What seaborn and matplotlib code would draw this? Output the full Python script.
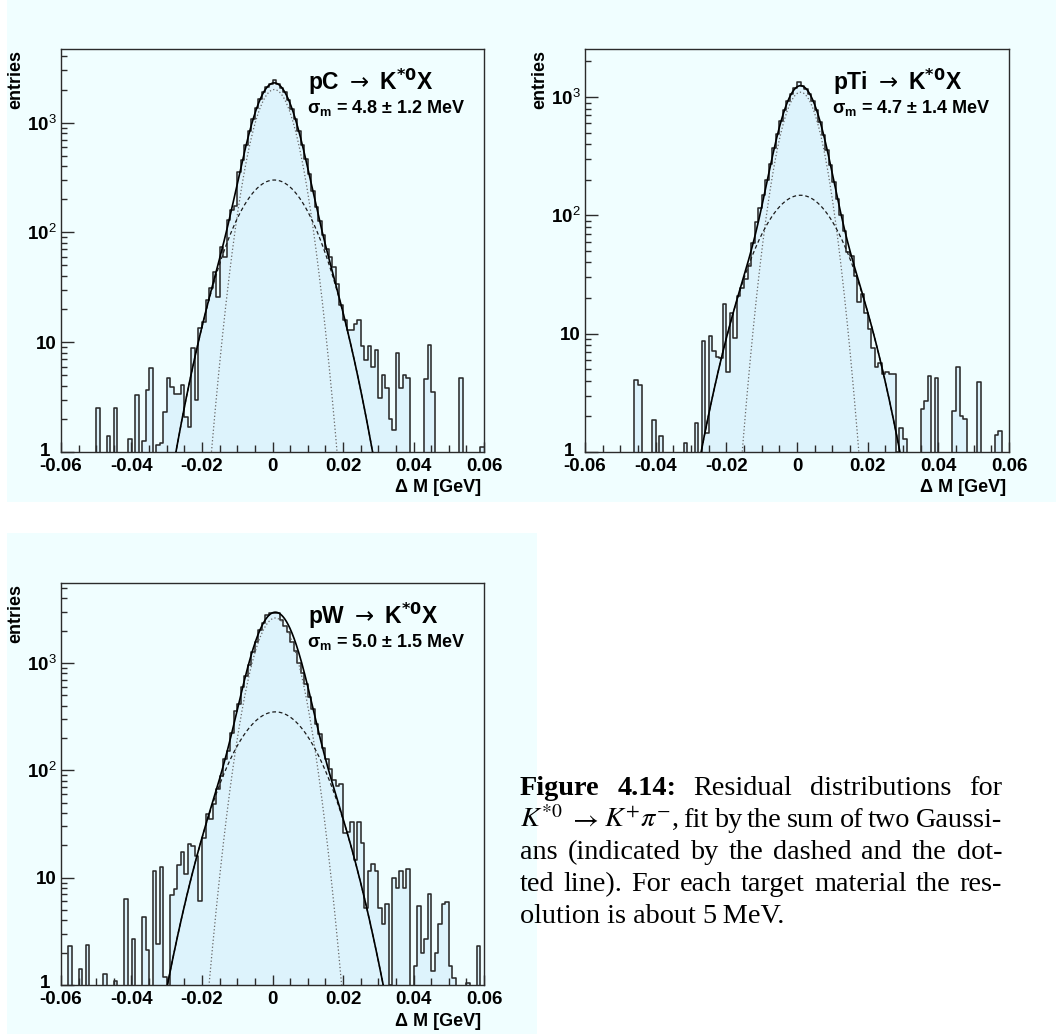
import numpy as np
import pandas as pd
import matplotlib
matplotlib.use("Agg")
import matplotlib.pyplot as plt
from matplotlib.patches import Rectangle
from matplotlib.ticker import FixedLocator, NullFormatter, MultipleLocator
import seaborn as sns

plt.rcParams['font.family'] = ['Liberation Sans', 'DejaVu Sans']
plt.rcParams['mathtext.fontset'] = 'custom'
plt.rcParams['mathtext.rm'] = 'Liberation Sans'
plt.rcParams['mathtext.bf'] = 'Liberation Sans:bold'
plt.rcParams['mathtext.it'] = 'Liberation Sans:italic'
plt.rcParams['mathtext.sf'] = 'Liberation Sans'

# ---------------- data ----------------
x_lo, x_hi, n_bins = -0.06, 0.06, 120

pC_counts = [0, 0, 0, 0, 0, 0, 0, 0, 0, 0,
             2.5, 0, 0, 1.4, 0, 2.5, 0, 0, 0, 1.3,
             0, 3.3, 0, 1.25, 3.7, 5.8, 0, 1.15, 1.2, 2.3,
             4.7, 3.9, 3.4, 3.35, 4.1, 2.1, 1.7, 8.9, 3.0, 13.5,
             15.3, 24, 31, 44, 26, 73, 60, 130, 160, 175,
             355, 460, 620, 830, 1080, 1350, 1640, 1900, 2120, 2260,
             2420, 2250, 2080, 1880, 1620, 1340, 1080, 830, 630, 470,
             340, 240, 172, 128, 95, 70, 60, 48, 34, 22,
             16, 13, 13, 14.5, 15.8, 9.3, 6.9, 9.3, 6.0, 8.5,
             3.1, 5.0, 3.8, 2.0, 1.6, 7.9, 3.8, 5.0, 4.7, 0,
             0, 0, 0, 4.6, 9.5, 3.5, 0, 0, 0, 0,
             0, 0, 0, 4.7, 0, 0, 0, 0, 0, 1.1]

pTi_counts = [0, 0, 0, 0, 0, 0, 0, 0, 0, 0,
              0, 0, 0, 0, 4.1, 3.7, 0, 0, 0, 1.85,
              0, 1.37, 0, 0, 0, 0, 0, 0, 1.19, 0,
              0, 1.77, 0, 8.7, 1.45, 9.6, 7.1, 6.4, 6.2, 17.9,
              4.7, 15, 9.2, 21, 24.5, 29, 37, 59, 88, 115,
              150, 200, 270, 370, 490, 630, 780, 930, 1070, 1190,
              1350, 1230, 1170, 1070, 930, 780, 620, 480, 360, 265,
              190, 138, 100, 74, 49, 45, 31, 18.5, 21.8, 15,
              11, 7.5, 5.2, 5.6, 4.6, 4.7, 4.6, 4.6, 1.0, 1.6,
              1.3, 0, 0, 0, 0, 2.3, 2.7, 4.4, 0, 4.2,
              0, 0, 0, 0, 2.2, 5.2, 2.0, 1.9, 0, 0,
              0, 3.9, 0, 0, 0, 0, 1.4, 1.5, 0, 0]

pW_counts = [0, 0, 2.3, 0, 0, 1.4, 0, 2.37, 0, 0,
             0, 0, 1.27, 0, 0, 1.09, 0, 0, 6.3, 0,
             2.7, 0, 0, 4.3, 2.14, 0, 11.6, 2.4, 12.5, 1.2,
             0, 6.9, 7.8, 13.1, 17.5, 10.8, 20.6, 19.8, 16, 6.0,
             23.4, 39, 35, 49, 67, 89, 127, 150, 225, 360,
             415, 595, 760, 950, 1270, 1580, 2050, 2350, 2800, 2900,
             2900, 2900, 2500, 2200, 1950, 1570, 1300, 1000, 800, 640,
             480, 370, 270, 217, 163, 127, 102, 82, 71, 74,
             26, 26.5, 33, 14.6, 33, 21, 5.2, 11.5, 13.4, 11.5,
             5.2, 3.7, 5.7, 1.0, 10, 8, 11.5, 8, 12, 0,
             1.5, 5.4, 2.0, 2.7, 7.1, 1.35, 2.0, 3.7, 5.7, 5.9,
             1.5, 1.17, 0, 0, 0, 1.05, 0, 0, 2.3, 0]

# double-Gaussian fit parameters: [narrow amp, narrow sigma, wide amp, wide sigma, mean]
pC_fit = [2000, 0.00457, 300, 0.00826, 0.0005]
pTi_fit = [1100, 0.00441, 148, 0.0089, 0.0010]
pW_fit = [2630, 0.00474, 351, 0.00894, 0.0008]

titles = ["pC", "pTi", "pW"]
sigma_txt = ["4.8 \u00b1 1.2 MeV", "4.7 \u00b1 1.4 MeV", "5.0 \u00b1 1.5 MeV"]
x_ticks = [-0.06, -0.04, -0.02, 0, 0.02, 0.04, 0.06]
x_tick_labels = ["-0.06", "-0.04", "-0.02", "0", "0.02", "0.04", "0.06"]
y_ticks = [1, 10, 100, 1000]
y_tick_labels = ["", "10", "10$^{2}$", "10$^{3}$"]
y_tops = [4680, 2550, 5575]

# ---------------- layout (pixels) ----------------
W, H = 1056, 1034
fig = plt.figure(figsize=(W / 100, H / 100), dpi=100)
fig.patch.set_facecolor("white")

BG = "#f0feff"
FILL = "#ddf3fc"
LINE = "#2b2b2b"


def fx(x):
    return x / W


def fy(y):
    return 1 - y / H


pads = [(7, 0, 537, 502), (531, 0, 1061, 502), (7, 533, 537, 1035)]
for (x0, y0, x1, y1) in pads:
    fig.patches.append(Rectangle((fx(x0), fy(y1)), fx(x1 - x0), (y1 - y0) / H,
                                 transform=fig.transFigure, facecolor=BG,
                                 edgecolor="none", zorder=-5))

axes_px = [(61, 49, 484, 452), (585, 49, 1009, 452), (61, 583, 484, 985)]
counts_all = [pC_counts, pTi_counts, pW_counts]
fits_all = [pC_fit, pTi_fit, pW_fit]

edges = np.linspace(x_lo, x_hi, n_bins + 1)
centers = 0.5 * (edges[:-1] + edges[1:])
xs = np.linspace(x_lo, x_hi, 1200)

for k in range(3):
    l, t, r, b = axes_px[k]
    ax = fig.add_axes([fx(l), fy(b), fx(r - l), (b - t) / H])
    ax.set_zorder(2)
    ax.set_facecolor(BG)
    df = pd.DataFrame({"dm": centers, "n": counts_all[k]})
    sns.histplot(data=df, x="dm", weights="n", bins=n_bins, binrange=(x_lo, x_hi),
                 element="step", fill=True, color=FILL, alpha=1, linewidth=0,
                 ax=ax, zorder=1)
    sns.histplot(data=df, x="dm", weights="n", bins=n_bins, binrange=(x_lo, x_hi),
                 element="step", fill=False, color=LINE, linewidth=1.15,
                 ax=ax, zorder=3)
    a1, s1, a2, s2, mu = fits_all[k]
    g1 = a1 * np.exp(-(xs - mu) ** 2 / (2 * s1 ** 2))
    g2 = a2 * np.exp(-(xs - mu) ** 2 / (2 * s2 ** 2))
    fdf = pd.DataFrame({"x": xs, "tot": g1 + g2, "g1": g1, "g2": g2})
    sns.lineplot(data=fdf, x="x", y="g1", ax=ax, color="#666666", linewidth=0.9,
                 linestyle=(0, (1, 1.8)), zorder=4)
    sns.lineplot(data=fdf, x="x", y="g2", ax=ax, color="#1a1a1a", linewidth=0.9,
                 linestyle=(0, (3, 2.2)), zorder=4)
    sns.lineplot(data=fdf, x="x", y="tot", ax=ax, color="#000000", linewidth=1.2,
                 zorder=5)
    ax.set_yscale("log")
    ax.set_xlim(x_lo, x_hi)
    ax.set_ylim(1, y_tops[k])
    ax.set_xlabel("")
    ax.set_ylabel("")

    ax.set_xticks(x_ticks)
    ax.set_xticklabels(x_tick_labels, fontsize=13.5, fontweight="bold")
    ax.xaxis.set_minor_locator(MultipleLocator(0.005))
    ax.set_yticks(y_ticks)
    ax.set_yticklabels(y_tick_labels, fontsize=13.5, fontweight="bold")
    minors = [m * 10 ** e for e in range(0, 4) for m in range(2, 10)]
    ax.yaxis.set_minor_locator(FixedLocator(minors))
    ax.yaxis.set_minor_formatter(NullFormatter())
    ax.tick_params(axis="x", which="major", direction="in", length=7, width=1,
                   color=LINE, pad=4, top=False)
    ax.tick_params(axis="x", which="minor", direction="in", length=5, width=1,
                   color=LINE, top=False)
    ax.tick_params(axis="y", which="major", direction="in", length=9, width=1,
                   color=LINE, pad=3, right=False)
    ax.tick_params(axis="y", which="minor", direction="in", length=4.6, width=1,
                   color=LINE, right=False)
    for sp in ax.spines.values():
        sp.set_color(LINE)
        sp.set_linewidth(1.0)
        sp.set_visible(True)

    # "1" label at the origin, ROOT style
    fig.text(fx(l - 16), fy(b - 1), "1", fontsize=13.5, fontweight="bold",
             ha="center", va="center")
    # axis titles
    fig.text(fx(l - 45), fy(t + 1), "entries", rotation=90, fontsize=13,
             fontweight="bold", ha="center", va="top")
    fig.text(fx(r - 3), fy(b + 36), "\u0394 M [GeV]", fontsize=13,
             fontweight="bold", ha="right", va="center")
    # panel labels
    fig.text(fx(r - 176), fy(t + 33), titles[k] + r" $\rightarrow$ K$^{\mathbf{*0}}$X",
             fontsize=16.5, fontweight="bold", ha="left", va="center",
             math_fontfamily="dejavusans")
    fig.text(fx(r - 177), fy(t + 59), "\u03c3" + r"$_{\mathbf{m}}$ = " + sigma_txt[k],
             fontsize=13, fontweight="bold", ha="left", va="center")

# ---------------- caption ----------------
renderer = fig.canvas.get_renderer()
cap_left, cap_right = 520, 1002
cap_base = [795 + 31.9 * i for i in range(5)]
SERIF = ["Liberation Serif", "DejaVu Serif"]
CS = 20.3
norm = dict(fontsize=CS, family=SERIF, math_fontfamily="stix")
bold = dict(fontsize=CS, family=SERIF, fontweight="bold", math_fontfamily="stix")
cap_lines = [
    ([("Figure", bold), ("4.14:", bold), ("Residual", norm), ("distributions", norm), ("for", norm)], True),
    ([(r"$K^{*0}$", norm), (r"$\rightarrow$", norm), (r"$K^{+}\pi^{-}$,", norm), ("fit", norm),
      ("by", norm), ("the", norm), ("sum", norm), ("of", norm), ("two", norm), ("Gaussi-", norm)], True),
    ([("ans", norm), ("(indicated", norm), ("by", norm), ("the", norm), ("dashed", norm),
      ("and", norm), ("the", norm), ("dot-", norm)], True),
    ([("ted", norm), ("line).", norm), ("For", norm), ("each", norm), ("target", norm),
      ("material", norm), ("the", norm), ("res-", norm)], True),
    ([("olution is about 5\u2009MeV.", norm)], False),
]
for (tokens, justify), yy in zip(cap_lines, cap_base):
    texts = [fig.text(0, fy(yy), s, ha="left", va="baseline", **p) for s, p in tokens]
    widths = [tx.get_window_extent(renderer).width for tx in texts]
    if justify and len(texts) > 1:
        gap = max(3.0, (cap_right - cap_left - sum(widths)) / (len(texts) - 1))
    else:
        gap = 5
    xcur = cap_left
    for tx, w in zip(texts, widths):
        tx.set_x(fx(xcur))
        xcur += w + gap

fig.savefig("out.png", dpi=100, facecolor="white")
